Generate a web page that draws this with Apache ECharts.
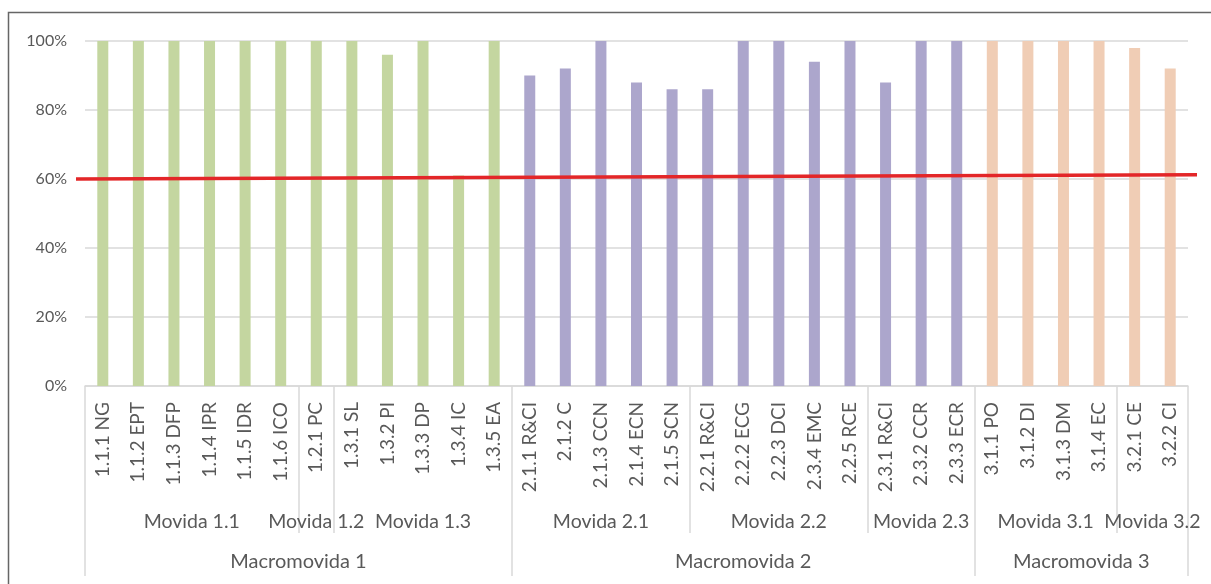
<!DOCTYPE html>
<html>
<head>
<meta charset="utf-8">
<script src="https://cdn.jsdelivr.net/npm/echarts@6/dist/echarts.min.js"></script>
<style>
  html, body { margin: 0; padding: 0; background: #fff; }
  #chart { width: 1211px; height: 584px; }
</style>
</head>
<body>
<div id="chart"></div>
<script>
// datos
const categories = [
  '1.1.1 NG', '1.1.2 EPT', '1.1.3 DFP', '1.1.4 IPR', '1.1.5 IDR', '1.1.6 ICO',
  '1.2.1 PC',
  '1.3.1 SL', '1.3.2 PI', '1.3.3 DP', '1.3.4 IC', '1.3.5 EA',
  '2.1.1 R&CI', '2.1.2 C', '2.1.3 CCN', '2.1.4 ECN', '2.1.5 SCN',
  '2.2.1 R&CI', '2.2.2 ECG', '2.2.3 DCI', '2.3.4 EMC', '2.2.5 RCE',
  '2.3.1 R&CI', '2.3.2 CCR', '2.3.3 ECR',
  '3.1.1 PO', '3.1.2 DI', '3.1.3 DM', '3.1.4 EC',
  '3.2.1 CE', '3.2.2 CI'
];
const values = [
  100, 100, 100, 100, 100, 100,
  100,
  100, 96, 100, 61, 100,
  90, 92, 100, 88, 86,
  86, 100, 100, 94, 100,
  88, 100, 100,
  100, 100, 100, 100,
  98, 92
];
const movidaNames = ['Movida 1.1', 'Movida 1.2', 'Movida 1.3', 'Movida 2.1', 'Movida 2.2', 'Movida 2.3', 'Movida 3.1', 'Movida 3.2'];
const movidaSizes = [6, 1, 5, 5, 5, 3, 4, 2];
const macroNames = ['Macromovida 1', 'Macromovida 2', 'Macromovida 3'];
const macroSizes = [12, 13, 6];
const lineEnds = ['inicio', 'fin'];
const lineValues = [60, 61.2];

const macroColors = ['#C4D6A0', '#ACA6CC', '#F0CDB5'];
const textColor = '#595959';
const gridColor = '#d9d9d9';
const font = 'Lato';

// eje auxiliar con 2n+1 puntos: etiqueta en el centro del grupo, marca en los bordes
function groupAxis(names, sizes) {
  const n = sizes.reduce((a, b) => a + b, 0);
  const labels = new Array(2 * n + 1).fill('');
  const edges = { 0: true };
  let start = 0;
  names.forEach((name, i) => {
    labels[2 * start + sizes[i]] = name;
    start += sizes[i];
    edges[2 * start] = true;
  });
  return { data: labels.map((_, i) => 'p' + i), labels, edges };
}

const movida = groupAxis(movidaNames, movidaSizes);
const macro = groupAxis(macroNames, macroSizes);

// color de cada barra según su macromovida
const barColors = [];
macroSizes.forEach((s, g) => { for (let i = 0; i < s; i++) barColors.push(macroColors[g]); });

function levelAxis(grp, tickLen, margin, size) {
  return {
    type: 'category',
    gridIndex: 0,
    position: 'bottom',
    data: grp.data,
    boundaryGap: false,
    axisLine: { show: false },
    axisTick: {
      show: true,
      length: tickLen,
      interval: (idx) => !!grp.edges[idx],
      lineStyle: { color: gridColor, width: 1.5 }
    },
    axisLabel: {
      interval: (idx) => grp.labels[idx] !== '',
      formatter: (v, idx) => grp.labels[idx],
      margin: margin,
      color: textColor,
      fontFamily: font,
      fontSize: size
    },
    splitLine: { show: false }
  };
}

const chart = echarts.init(document.getElementById('chart'));
const option = {
  animation: false,
  backgroundColor: '#fff',
  graphic: [{
    type: 'polyline',
    shape: { points: [[8.5, 700], [8.5, 12.5], [1300, 12.5]] },
    style: { stroke: '#666', lineWidth: 1.5, fill: null }
  }],
  grid: [
    { left: 85, right: 23, top: 41, bottom: 198, outerBoundsMode: 'none' },
    { left: 76, right: 14, top: 41, bottom: 198, outerBoundsMode: 'none' }
  ],
  xAxis: [
    {
      type: 'category',
      gridIndex: 0,
      position: 'bottom',
      data: categories,
      axisLine: { show: true, lineStyle: { color: gridColor, width: 1.5 } },
      axisTick: { show: false },
      axisLabel: {
        interval: 0,
        rotate: 90,
        margin: 16,
        color: textColor,
        fontFamily: font,
        fontSize: 19
      }
    },
    levelAxis(movida, 147, 126, 19.5),
    levelAxis(macro, 190, 166, 20),
    {
      type: 'category',
      gridIndex: 1,
      data: lineEnds,
      boundaryGap: false,
      show: false
    }
  ],
  yAxis: [
    {
      type: 'value',
      gridIndex: 0,
      min: 0,
      max: 100,
      interval: 20,
      axisLine: { show: false },
      axisTick: { show: false },
      splitLine: { lineStyle: { color: gridColor, width: 1.5 } },
      axisLabel: {
        formatter: '{value}%',
        margin: 18,
        color: textColor,
        fontFamily: font,
        fontSize: 16
      }
    },
    {
      type: 'value',
      gridIndex: 1,
      min: 0,
      max: 100,
      show: false
    }
  ],
  series: [
    {
      type: 'bar',
      xAxisIndex: 0,
      yAxisIndex: 0,
      barWidth: 11,
      data: values.map((v, i) => ({ value: v, itemStyle: { color: barColors[i] } }))
    },
    {
      type: 'line',
      xAxisIndex: 3,
      yAxisIndex: 1,
      data: lineValues,
      symbol: 'none',
      lineStyle: { color: '#E32628', width: 3.5 },
      z: 10
    }
  ]
};
chart.setOption(option);
</script>
</body>
</html>
